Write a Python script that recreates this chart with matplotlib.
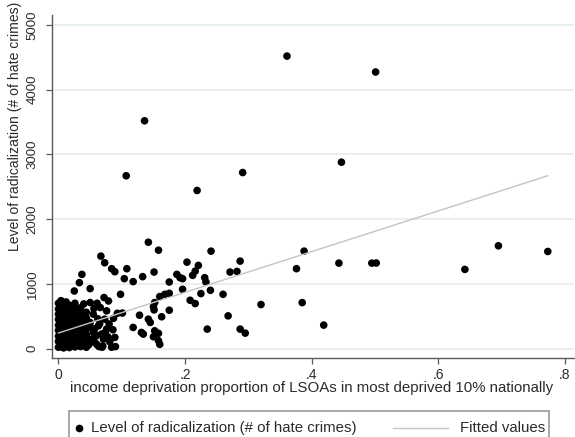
import matplotlib
matplotlib.use('Agg')
import matplotlib.pyplot as plt
from matplotlib.lines import Line2D
from matplotlib.patches import Rectangle

plt.rcParams['font.family'] = ['Liberation Sans', 'DejaVu Sans']

# ---------------- data ----------------
rad_x = [
    # high outliers
    0.361, 0.501, 0.447, 0.136, 0.107, 0.219, 0.291,
    # right-hand mid values
    0.388, 0.376, 0.443, 0.495, 0.502, 0.695, 0.773, 0.642, 0.385, 0.419,
    # 0.2 - 0.32 group
    0.241, 0.203, 0.221, 0.216, 0.212, 0.196, 0.231, 0.233, 0.287, 0.271,
    0.282, 0.196, 0.225, 0.240, 0.208, 0.216, 0.260, 0.320, 0.268, 0.235,
    0.287, 0.295,
    # 0.05 - 0.19 group
    0.142, 0.158, 0.067, 0.073, 0.084, 0.089, 0.108, 0.151, 0.104, 0.118,
    0.133, 0.037, 0.033, 0.050, 0.025, 0.098, 0.175, 0.187, 0.192, 0.168,
    0.160, 0.175, 0.152, 0.151, 0.175, 0.128, 0.142, 0.145, 0.118, 0.131,
    0.134, 0.152, 0.158, 0.089, 0.081, 0.093, 0.101, 0.072, 0.079, 0.066,
    0.076, 0.073, 0.063, 0.076, 0.068, 0.071, 0.050, 0.055, 0.050, 0.055,
    0.047, 0.087, 0.150, 0.158, 0.160, 0.163, 0.150,
    # dense block near zero
    0.000, 0.000, 0.000, 0.000, 0.000, 0.000, 0.000, 0.000, 0.000,
    0.004, 0.004, 0.004, 0.004, 0.004, 0.004, 0.004, 0.004, 0.004,
    0.008, 0.008, 0.008, 0.008, 0.008, 0.008, 0.008, 0.008, 0.008,
    0.012, 0.012, 0.012, 0.012, 0.012, 0.012, 0.012, 0.012, 0.012,
    0.017, 0.017, 0.017, 0.017, 0.017, 0.017, 0.017, 0.017, 0.017,
    0.021, 0.021, 0.021, 0.021, 0.021, 0.021, 0.021, 0.021,
    0.026, 0.026, 0.026, 0.026, 0.026, 0.026, 0.026, 0.026, 0.026,
    0.031, 0.031, 0.031, 0.031, 0.031, 0.031, 0.031,
    0.035, 0.035, 0.035, 0.035, 0.035, 0.035, 0.035, 0.035,
    0.040, 0.040, 0.040, 0.040, 0.040, 0.040, 0.040,
    0.044, 0.044, 0.044, 0.044, 0.044, 0.044,
    0.048, 0.052, 0.058, 0.060, 0.062, 0.064, 0.070, 0.084,
    0.046, 0.054, 0.057, 0.061, 0.065, 0.069, 0.074, 0.078, 0.080, 0.086,
    0.090, 0.056, 0.061,
]
rad_y = [
    4520, 4274, 2880, 3520, 2670, 2443, 2720,
    1505, 1234, 1320, 1320, 1322, 1588, 1500, 1223, 710, 362,
    1505, 1335, 1285, 1197, 1131, 1080, 1095, 1028, 1351, 1182,
    1192, 915, 849, 900, 746, 695, 838, 680, 505, 300,
    300, 238,
    1643, 1520, 1428, 1326, 1234, 1187, 1234, 1182, 1080, 1034,
    1111, 1146, 1018, 926, 889, 838, 1028, 1146, 1095, 838,
    803, 854, 711, 597, 592, 515, 454, 403, 326, 249,
    223, 274, 120, 172, 105, 545, 548, 788, 735, 634,
    582, 454, 351, 300, 223, 146, 711, 531, 403, 249,
    146, 467, 182, 235, 65, 491, 646,
    20, 110, 190, 280, 360, 450, 530, 610, 700,
    60, 150, 240, 330, 410, 500, 580, 660, 740,
    10, 95, 175, 265, 345, 430, 515, 600, 685,
    45, 130, 220, 300, 390, 470, 555, 640, 720,
    15, 85, 170, 250, 335, 420, 505, 590, 670,
    55, 140, 230, 310, 395, 480, 560, 650,
    25, 105, 195, 275, 365, 440, 525, 615, 700,
    70, 160, 245, 320, 405, 495, 575,
    30, 120, 205, 290, 380, 460, 545, 630,
    80, 165, 255, 340, 425, 510, 690,
    20, 135, 215, 300, 470, 560,
    60, 320, 90, 200, 460, 30, 40, 20,
    380, 150, 300, 60, 380, 20, 250, 180, 380, 290,
    30, 620, 700,
]
fit_x = [0.0, 0.773]
fit_y = [240, 2671]

x_ticks = [0, 0.2, 0.4, 0.6, 0.8]
x_tick_labels = ['0', '.2', '.4', '.6', '.8']
y_ticks = [0, 1000, 2000, 3000, 4000, 5000]
y_tick_labels = ['0', '1000', '2000', '3000', '4000', '5000']

x_title = 'income deprivation proportion of LSOAs in most deprived 10% nationally'
y_title = 'Level of radicalization (# of hate crimes)'
legend_labels = ['Level of radicalization (# of hate crimes)', 'Fitted values']

# ---------------- layout ----------------
W, H = 575, 437
fig = plt.figure(figsize=(W / 100, H / 100), dpi=100)
fig.patch.set_facecolor('white')


def fx(px):
    return px / W


def fy(py):
    return 1 - py / H


TXT = '#2b2b2b'
AX = '#5a5a5a'

ax = fig.add_axes([fx(51.7), fy(358.3), fx(574) - fx(51.7), fy(15) - fy(358.3)])
ax.set_xlim(-0.0107, 0.8144)
ax.set_ylim(-151, 5155)

for s in ['top', 'right']:
    ax.spines[s].set_visible(False)
for s in ['left', 'bottom']:
    ax.spines[s].set_color(AX)
    ax.spines[s].set_linewidth(1.0)

ax.set_yticks(y_ticks)
ax.set_yticklabels(y_tick_labels, rotation=90, va='center', fontsize=9.5, color=TXT)
ax.set_xticks(x_ticks)
ax.set_xticklabels(x_tick_labels, fontsize=10, color=TXT)
ax.tick_params(axis='x', length=4, width=0.9, color=AX, pad=3)
ax.tick_params(axis='y', length=4.5, width=0.9, color=AX, pad=5)
ax.grid(axis='y', color='#e6eff1', linewidth=1.3)
ax.set_axisbelow(True)

ax.scatter(rad_x, rad_y, s=30, color='black', edgecolors='none', zorder=3)
ax.plot(fit_x, fit_y, color='#c4c4c4', linewidth=1.0, zorder=4)

# axis titles
xt = fig.text(fx(311.5), fy(388), x_title, ha='center', va='center', fontsize=9.5, color=TXT)
yt = fig.text(fx(15), fy(126), y_title, ha='center', va='center', rotation=90,
              fontsize=9, color=TXT)

# legend (Stata-style box)
box = Rectangle((fx(69), fy(452)), fx(549) - fx(69), fy(411) - fy(452),
                transform=fig.transFigure, facecolor='white', edgecolor='#9a9a9a',
                linewidth=1.2, clip_on=True)
fig.add_artist(box)
ly = fy(428)
fig.add_artist(Line2D([fx(79)], [ly], marker='o', markersize=4.5, color='black',
                      linestyle='none', transform=fig.transFigure))
lt1 = fig.text(fx(91), ly, legend_labels[0], ha='left', va='center', fontsize=9.5, color=TXT)
fig.add_artist(Line2D([fx(393), fx(448)], [ly, ly], color='#c4c4c4', linewidth=1.0,
                      transform=fig.transFigure))
lt2 = fig.text(fx(460), ly, legend_labels[1], ha='left', va='center', fontsize=9.5, color=TXT)

# size text to measured widths
fig.canvas.draw()
r = fig.canvas.get_renderer()
for t, target in [(xt, 485), (lt1, 267), (yt, 248)]:
    bb = t.get_window_extent(r)
    w = bb.width if t.get_rotation() == 0 else bb.height
    t.set_fontsize(t.get_fontsize() * target / w)
lt2.set_fontsize(lt1.get_fontsize())

fig.savefig('out.png', dpi=100, facecolor='white')
